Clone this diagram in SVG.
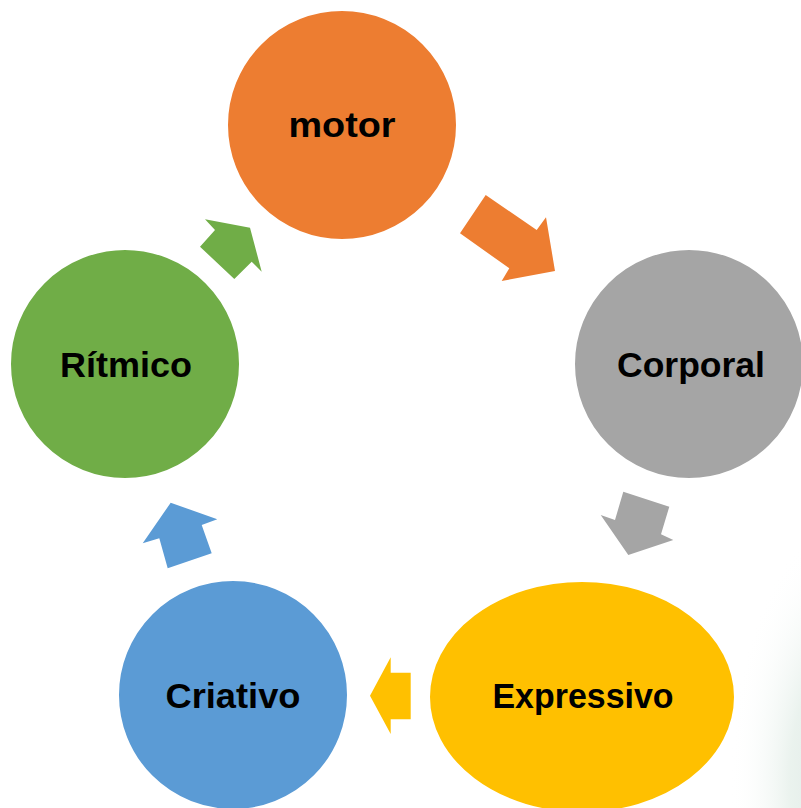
<svg xmlns="http://www.w3.org/2000/svg" width="801" height="808" viewBox="0 0 801 808">
  <defs>
    <radialGradient id="bgTint" gradientUnits="userSpaceOnUse" cx="0" cy="0" r="1" gradientTransform="translate(850 780) scale(120 260)">
      <stop offset="0" stop-color="#dbe5e3" stop-opacity="1"/>
      <stop offset="0.5" stop-color="#e8f1ec" stop-opacity="0.9"/>
      <stop offset="1" stop-color="#ffffff" stop-opacity="0"/>
    </radialGradient>
    <style>
      .node { stroke: #ffffff; stroke-width: 2; }
      .label { font-family: "Liberation Sans", Arial, sans-serif; font-weight: bold; font-size: 35px; fill: #000000; text-anchor: middle; }
      .arrow { stroke: none; }
    </style>
  </defs>
  <rect x="0" y="0" width="801" height="808" fill="#ffffff"/>
  <rect x="600" y="480" width="201" height="328" fill="url(#bgTint)"/>

  <g id="connectors">
    <polygon class="arrow" fill="#ED7D31" points="485.7,195 536.7,230 546,217.3 555,271 501.7,281 509.3,268.3 460,233.3"/>
    <polygon class="arrow" fill="#A5A5A5" points="623.3,491.7 669.3,506.7 661,534.3 673.3,540 628.3,555 600.7,515 615,520"/>
    <polygon class="arrow" fill="#FFC000" points="410.7,672.7 390.7,672.7 390.7,657.3 370,695.7 390.7,734 390.7,719.3 410.7,719.3"/>
    <polygon class="arrow" fill="#5B9BD5" points="211.7,553.3 201.7,525 217.3,519.3 170.7,502.7 142.7,543.3 159.3,538.3 167.7,568.3"/>
    <polygon class="arrow" fill="#70AD47" points="200,246.7 215,230 205,219.3 250,227.7 261.7,271.7 251.7,261.7 234.3,279"/>
  </g>

  <g id="node-motor">
    <circle class="node" cx="342" cy="125" r="115" fill="#ED7D31"/>
    <text class="label" x="342" y="137" textLength="107" lengthAdjust="spacingAndGlyphs">motor</text>
  </g>
  <g id="node-corporal">
    <circle class="node" cx="689" cy="364" r="115" fill="#A5A5A5"/>
    <text class="label" x="691" y="377" textLength="148" lengthAdjust="spacingAndGlyphs">Corporal</text>
  </g>
  <g id="node-expressivo">
    <ellipse class="node" cx="582" cy="697" rx="153" ry="116" fill="#FFC000"/>
    <text class="label" x="583" y="708" textLength="181" lengthAdjust="spacingAndGlyphs">Expressivo</text>
  </g>
  <g id="node-criativo">
    <circle class="node" cx="233" cy="695" r="115" fill="#5B9BD5"/>
    <text class="label" x="233" y="708" textLength="135" lengthAdjust="spacingAndGlyphs">Criativo</text>
  </g>
  <g id="node-ritmico">
    <circle class="node" cx="125" cy="364" r="115" fill="#70AD47"/>
    <text class="label" x="126" y="377" textLength="132" lengthAdjust="spacingAndGlyphs">Rítmico</text>
  </g>
</svg>
